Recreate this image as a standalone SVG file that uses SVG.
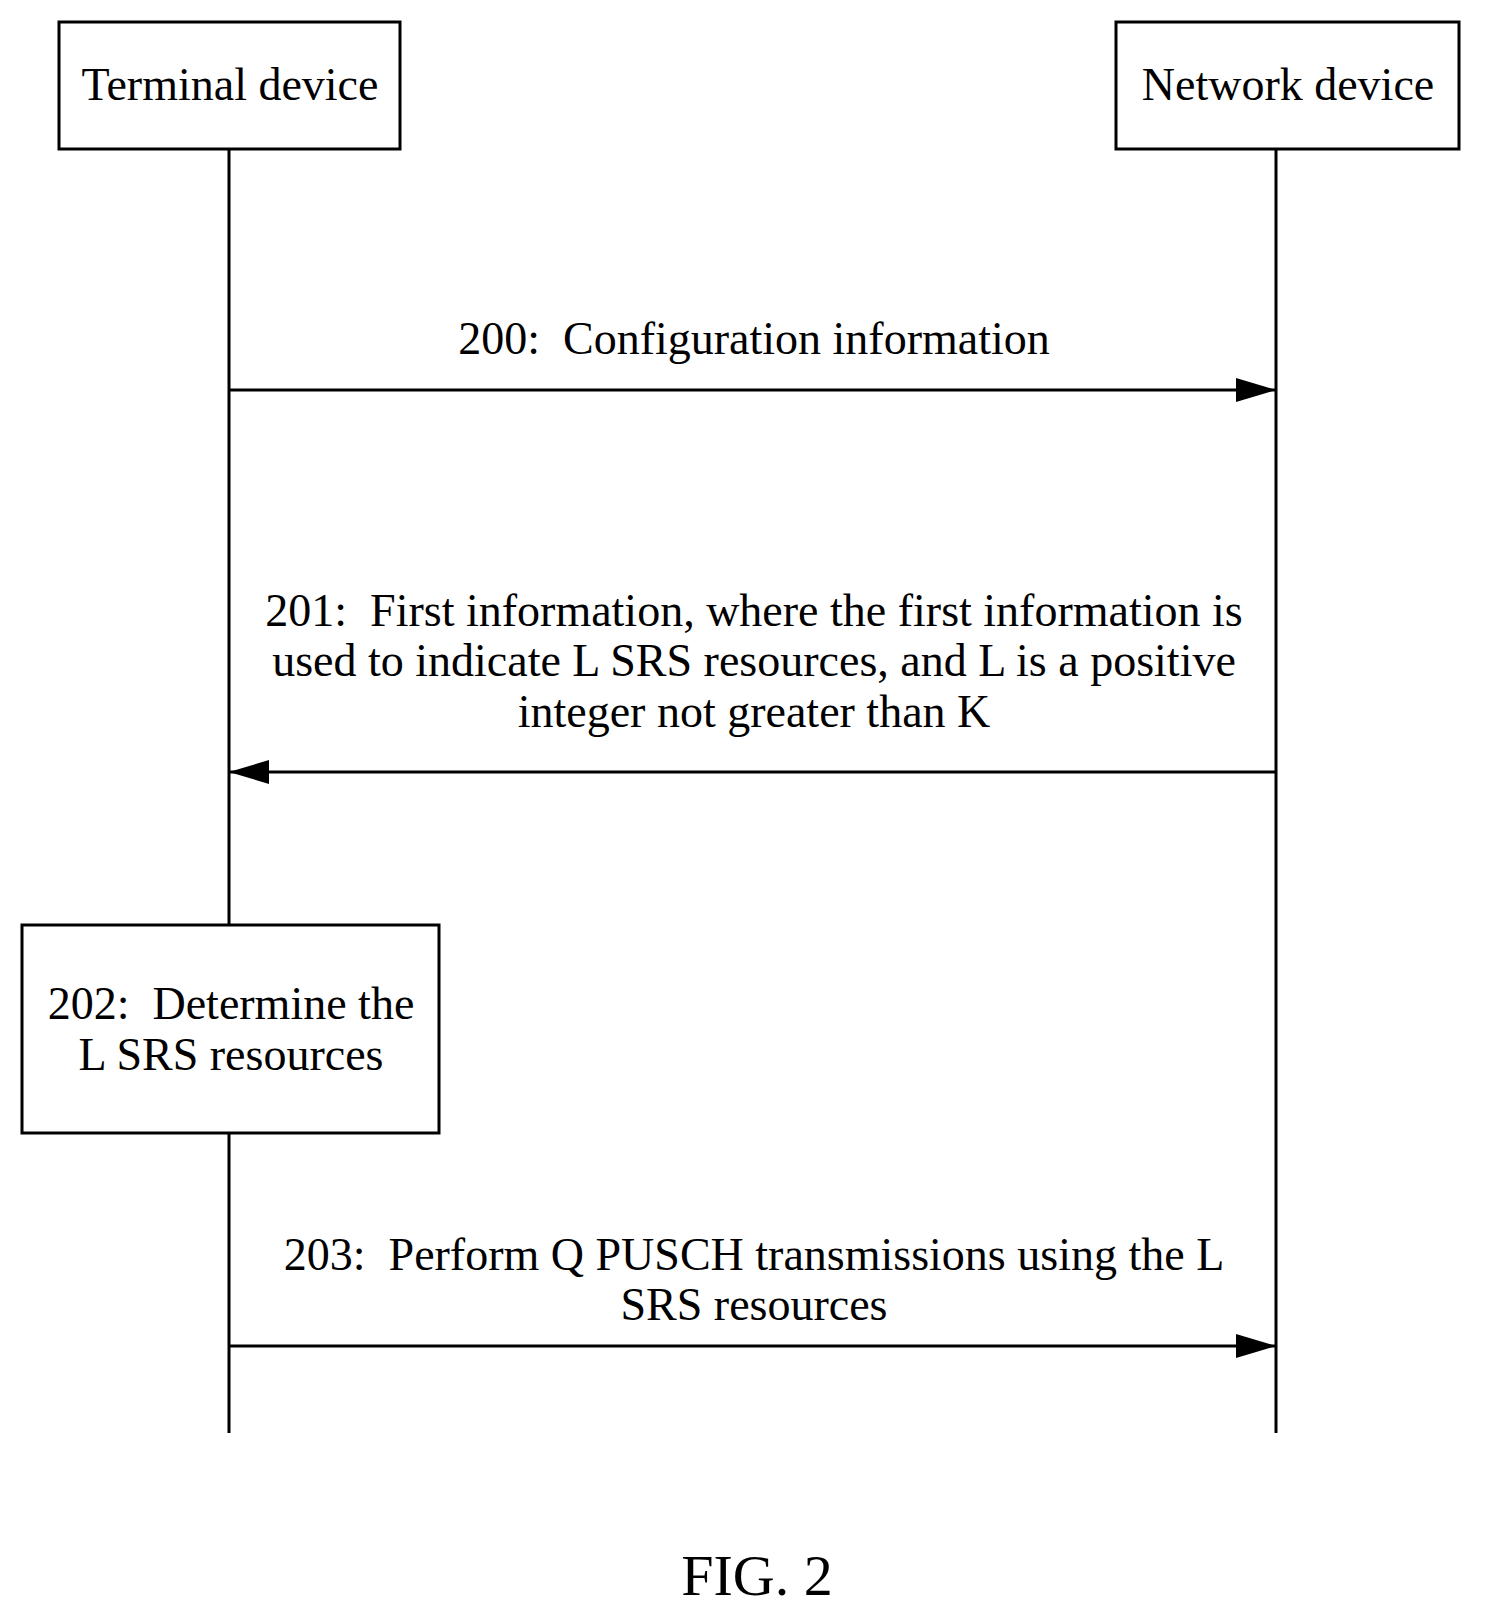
<svg xmlns="http://www.w3.org/2000/svg" width="1485" height="1622" viewBox="0 0 1485 1622" xml:space="preserve">
<style>
text{font-family:"Liberation Serif",serif;font-size:46px;fill:#000;text-anchor:middle;white-space:pre}
.b{fill:#fff;stroke:#000;stroke-width:3}
.l{stroke:#000;stroke-width:3;fill:none}
</style>
<defs><marker id="h" viewBox="0 0 40 24" refX="40" refY="12" markerWidth="40" markerHeight="24" orient="auto" markerUnits="userSpaceOnUse"><path d="M0,0L40,12L0,24z"/></marker></defs>
<rect width="1485" height="1622" fill="#fff"/>
<g id="connectors">
<line class="l" x1="229" y1="149" x2="229" y2="925"/>
<line class="l" x1="229" y1="1133" x2="229" y2="1433"/>
<line class="l" x1="1276" y1="149" x2="1276" y2="1433"/>
<line class="l" x1="229" y1="390" x2="1276" y2="390" marker-end="url(#h)"/>
<line class="l" x1="1276" y1="772" x2="229" y2="772" marker-end="url(#h)"/>
<line class="l" x1="229" y1="1346" x2="1276" y2="1346" marker-end="url(#h)"/>
<text x="754" y="354">200:  Configuration information</text>
<text x="754" y="626">201:  First information, where the first information is</text>
<text x="754" y="676">used to indicate L SRS resources, and L is a positive</text>
<text x="754" y="727">integer not greater than K</text>
<text x="754" y="1270">203:  Perform Q PUSCH transmissions using the L</text>
<text x="754" y="1320">SRS resources</text>
</g>
<g id="terminal"><rect class="b" x="59" y="22" width="341" height="127"/><text x="230" y="100">Terminal device</text></g>
<g id="network"><rect class="b" x="1116" y="22" width="343" height="127"/><text x="1288" y="100">Network device</text></g>
<g id="step202"><rect class="b" x="22" y="925" width="417" height="208"/><text x="231" y="1019">202:  Determine the</text><text x="231" y="1070">L SRS resources</text></g>
<text x="757" y="1595" style="font-size:58px">FIG. 2</text>
</svg>
